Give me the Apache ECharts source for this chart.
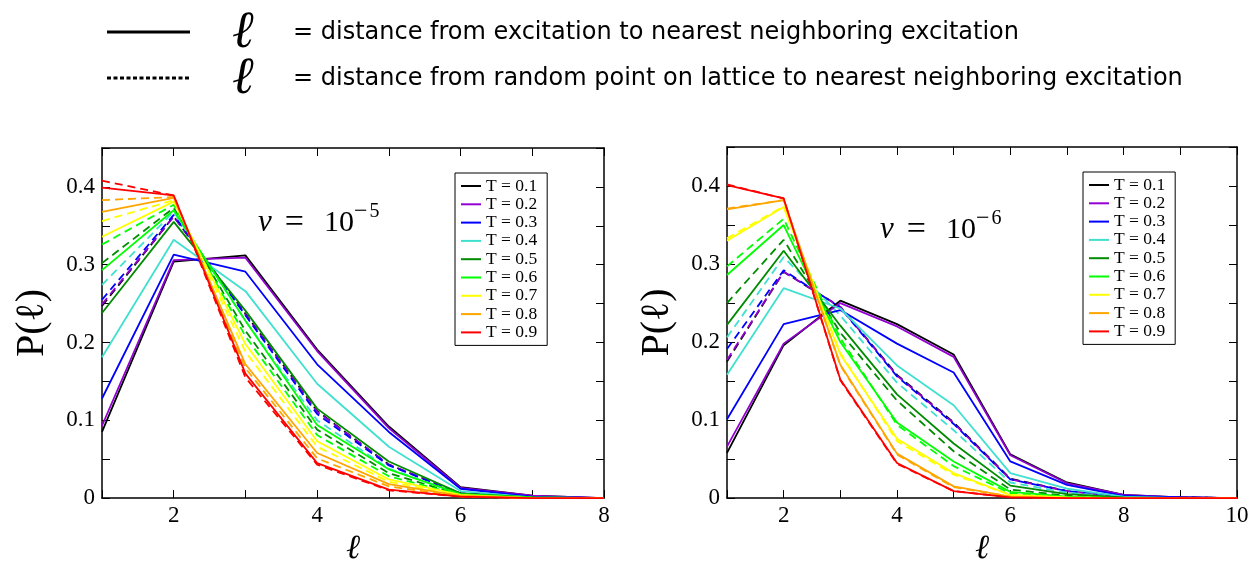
<!DOCTYPE html>
<html><head><meta charset="utf-8">
<script src="https://cdn.jsdelivr.net/npm/echarts@6/dist/echarts.min.js"></script>
<style>html,body{margin:0;padding:0;background:#fff}#c{width:1260px;height:571px}</style>
</head><body><div id="c"></div>
<script>
// ---------- data ----------
const temps = ['T = 0.1','T = 0.2','T = 0.3','T = 0.4','T = 0.5','T = 0.6','T = 0.7','T = 0.8','T = 0.9'];
const lineColors = ['#000000','#9400d3','#0000ff','#40e0d0','#008b00','#00ff00','#ffff00','#ffa500','#ff0000'];
const lengthsA = [1,2,3,4,5,6,7,8];          // nu = 1e-5 panel
const lengthsB = [1,2,3,4,5,6,7,8,9,10];     // nu = 1e-6 panel
// nu = 1e-5 : distance from excitation to nearest neighbouring excitation (solid)
const solidA = [
  [0.085,0.304,0.312,0.191,0.092,0.014,0.003,0.000],
  [0.093,0.306,0.309,0.189,0.090,0.013,0.003,0.000],
  [0.128,0.313,0.291,0.172,0.085,0.012,0.002,0.000],
  [0.181,0.332,0.266,0.147,0.066,0.009,0.001,0.000],
  [0.238,0.355,0.241,0.115,0.047,0.006,0.001,0.000],
  [0.293,0.370,0.228,0.094,0.037,0.005,0.001,0.000],
  [0.336,0.381,0.198,0.073,0.024,0.004,0.000,0.000],
  [0.368,0.386,0.172,0.058,0.018,0.003,0.000,0.000],
  [0.399,0.389,0.160,0.045,0.011,0.002,0.000,0.000]
];
// nu = 1e-5 : distance from random lattice point to nearest excitation (dashed)
const dashedA = [
  [0.247,0.362,0.237,0.112,0.043,0.006,0.001,0.000],
  [0.249,0.362,0.236,0.111,0.043,0.006,0.001,0.000],
  [0.255,0.364,0.235,0.108,0.042,0.006,0.001,0.000],
  [0.274,0.368,0.228,0.100,0.038,0.005,0.001,0.000],
  [0.302,0.373,0.215,0.088,0.032,0.004,0.000,0.000],
  [0.326,0.377,0.208,0.081,0.028,0.004,0.000,0.000],
  [0.356,0.383,0.188,0.066,0.021,0.003,0.000,0.000],
  [0.383,0.387,0.167,0.051,0.015,0.002,0.000,0.000],
  [0.408,0.389,0.155,0.043,0.010,0.002,0.000,0.000]
];
// nu = 1e-6 (solid)
const solidB = [
  [0.058,0.196,0.253,0.223,0.184,0.056,0.020,0.004,0.001,0.000],
  [0.066,0.198,0.250,0.220,0.181,0.055,0.019,0.004,0.001,0.000],
  [0.101,0.223,0.241,0.198,0.161,0.047,0.017,0.003,0.001,0.000],
  [0.158,0.269,0.243,0.170,0.119,0.032,0.012,0.002,0.000,0.000],
  [0.222,0.317,0.221,0.133,0.070,0.016,0.005,0.001,0.000,0.000],
  [0.286,0.350,0.200,0.097,0.047,0.008,0.002,0.000,0.000,0.000],
  [0.330,0.373,0.184,0.076,0.032,0.004,0.001,0.000,0.000,0.000],
  [0.370,0.382,0.171,0.057,0.015,0.002,0.000,0.000,0.000,0.000],
  [0.401,0.384,0.152,0.045,0.009,0.001,0.000,0.000,0.000,0.000]
];
// nu = 1e-6 (dashed)
const dashedB = [
  [0.175,0.290,0.245,0.158,0.097,0.025,0.009,0.002,0.001,0.000],
  [0.177,0.290,0.245,0.157,0.096,0.024,0.009,0.002,0.001,0.000],
  [0.191,0.292,0.244,0.156,0.095,0.024,0.009,0.002,0.001,0.000],
  [0.206,0.309,0.234,0.148,0.087,0.020,0.007,0.001,0.000,0.000],
  [0.250,0.331,0.212,0.125,0.060,0.011,0.003,0.000,0.000,0.000],
  [0.297,0.358,0.205,0.094,0.041,0.006,0.001,0.000,0.000,0.000],
  [0.333,0.374,0.186,0.073,0.030,0.004,0.001,0.000,0.000,0.000],
  [0.371,0.382,0.170,0.056,0.014,0.002,0.000,0.000,0.000,0.000],
  [0.402,0.384,0.151,0.044,0.009,0.001,0.000,0.000,0.000,0.000]
];
const legendTexts = ['= distance from excitation to nearest neighboring excitation',
                     '= distance from random point on lattice to nearest neighboring excitation'];

// ---------- chart ----------
const serif = '"Liberation Serif", "DejaVu Serif", serif';
const chart = echarts.init(document.getElementById('c'), null, {renderer: 'canvas'});

function mkSeries(name, ys, xs, color, dashed, xi, yi) {
  return {
    type: 'line', name: name, xAxisIndex: xi, yAxisIndex: yi,
    data: xs.map((x, i) => [x, ys[i]]),
    symbol: 'none', silent: true, animation: false,
    lineStyle: {color: color, width: 1.8, type: dashed ? [8, 5] : 'solid'},
    itemStyle: {color: color}
  };
}
const series = [];
[[dashedA, lengthsA, 0], [dashedB, lengthsB, 2]].forEach(([set, xs, ai]) => {
  set.forEach((ys, k) => series.push(mkSeries(temps[k] + ' (random)', ys, xs, lineColors[k], true, ai, ai)));
});
[[solidA, lengthsA, 0], [solidB, lengthsB, 2]].forEach(([set, xs, ai]) => {
  set.forEach((ys, k) => series.push(mkSeries(temps[k], ys, xs, lineColors[k], false, ai, ai)));
});

const axLine = {show: true, onZero: false, lineStyle: {color: '#000', width: 1.5}};
const axTick = {show: true, inside: true, length: 8, lineStyle: {color: '#000', width: 1}};
function xAx(grid, max, bottom) {
  return {
    type: 'value', gridIndex: grid, min: 1, max: max, interval: 1,
    position: bottom ? 'bottom' : 'top',
    axisLine: axLine, axisTick: axTick, splitLine: {show: false},
    axisLabel: bottom ? {show: true, formatter: v => (v % 2 === 0 ? String(v) : ''),
      fontFamily: serif, fontSize: 23, color: '#000', margin: 6} : {show: false},
    name: bottom ? 'ℓ' : '', nameLocation: 'middle', nameGap: 26,
    nameTextStyle: {fontFamily: serif, fontSize: 34, fontStyle: 'italic', color: '#000'}
  };
}
function yAx(grid, left) {
  return {
    type: 'value', gridIndex: grid, min: 0, max: 0.45, interval: 0.05,
    position: left ? 'left' : 'right',
    axisLine: axLine, axisTick: axTick, splitLine: {show: false},
    axisLabel: left ? {show: true, formatter: v => { const k = Math.round(v * 100); return k % 10 === 0 ? (k === 0 ? '0' : String(k / 100)) : ''; },
      fontFamily: serif, fontSize: 23, color: '#000', margin: 7} : {show: false},
    name: left ? 'P(ℓ)' : '', nameLocation: 'middle', nameGap: 50, nameRotate: 90,
    nameTextStyle: {fontFamily: serif, fontSize: 40, color: '#000'}
  };
}
function legendAt(left, top) {
  return {
    data: temps, orient: 'vertical', left: left, top: top, selectedMode: false,
    icon: 'rect', itemWidth: 20, itemHeight: 2, itemGap: 0.3,
    padding: [4, 10, 4, 6], borderColor: '#000', borderWidth: 1, backgroundColor: '#fff',
    textStyle: {fontFamily: serif, fontSize: 17.5, color: '#000', lineHeight: 18}
  };
}
const txt = (x, y, text, size, family, extra) => ({type: 'text', x: x, y: y, silent: true,
  style: Object.assign({text: text, fontSize: size, fontFamily: family, fill: '#000', verticalAlign: 'middle'}, extra || {})});
const nuRich = {
  nu: {fontFamily: serif, fontSize: 31, fontStyle: 'italic'},
  eq: {fontFamily: serif, fontSize: 34, padding: [0, 20, 0, 13]},
  n: {fontFamily: serif, fontSize: 30}
};
const supRich = {
  m: {fontFamily: serif, fontSize: 24, padding: [0, 2, 0, 0]},
  d: {fontFamily: serif, fontSize: 20}
};

chart.setOption({
  animation: false,
  backgroundColor: '#fff',
  grid: [
    {left: 102, top: 148, width: 502, height: 354},
    {left: 727, top: 147, width: 510, height: 355}
  ],
  xAxis: [xAx(0, 8, true), xAx(0, 8, false), xAx(1, 10, true), xAx(1, 10, false)],
  yAxis: [yAx(0, true), yAx(0, false), yAx(1, true), yAx(1, false)],
  legend: [legendAt(455, 173), legendAt(1083, 172)],
  series: series,
  graphic: [
    {type: 'line', shape: {x1: 107, y1: 32, x2: 190, y2: 32}, style: {stroke: '#000', lineWidth: 3}},
    {type: 'line', shape: {x1: 107, y1: 78, x2: 190, y2: 78}, style: {stroke: '#000', lineWidth: 3, lineDash: [4, 2.5]}},
    txt(232, 33, 'ℓ', 52, serif, {fontStyle: 'italic'}),
    txt(232, 79, 'ℓ', 52, serif, {fontStyle: 'italic'}),
    txt(293, 33, legendTexts[0], 24, '"DejaVu Sans", sans-serif'),
    txt(293, 79, legendTexts[1], 24, '"DejaVu Sans", sans-serif'),
    txt(258, 223, '{nu|ν}{eq|=}{n|10}', 30, serif, {rich: nuRich}),
    txt(354, 212, '{m|−}{d|5}', 20, serif, {rich: supRich}),
    txt(880, 230, '{nu|ν}{eq|=}{n|10}', 30, serif, {rich: nuRich}),
    txt(976, 219, '{m|−}{d|6}', 20, serif, {rich: supRich})
  ]
});
</script></body></html>
